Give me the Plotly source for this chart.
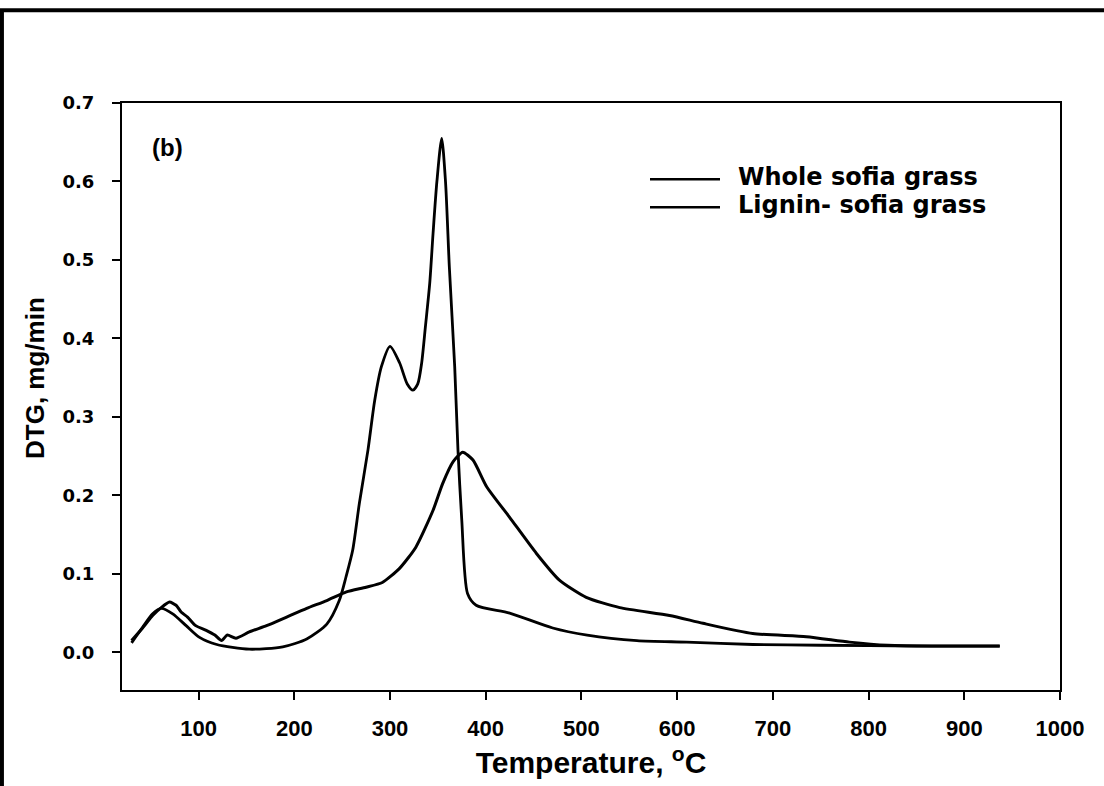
import plotly.graph_objects as go

# Whole sofia grass (T in degC, DTG in mg/min)
whole_T = [30, 41.5, 52, 61, 73, 87, 101, 119, 153, 188, 213, 234, 247, 254, 261, 268,
           277, 284, 291, 300, 310, 318, 324, 329, 333, 337, 341.5, 345, 349, 354, 358, 362,
           367.6, 371, 375, 381, 390, 425, 470, 506, 558, 610, 679, 750, 850, 937]
whole_v = [0.012, 0.032, 0.049, 0.056, 0.049, 0.034, 0.019, 0.010, 0.004, 0.007, 0.017,
           0.036, 0.066, 0.096, 0.130, 0.190, 0.258, 0.321, 0.364, 0.390, 0.369, 0.342,
           0.334, 0.342, 0.368, 0.415, 0.470, 0.534, 0.600, 0.655, 0.600, 0.491, 0.364,
           0.258, 0.168, 0.075, 0.060, 0.050, 0.031, 0.022, 0.015, 0.013, 0.010, 0.009,
           0.008, 0.008]

# Lignin- sofia grass
lignin_T = [30, 41.5, 52, 61, 69.6, 76.5, 82, 88.5, 97, 108, 117, 124, 130, 139, 153,
            171, 192, 213, 234, 254.5, 275, 292, 310, 327, 345, 355, 366, 376, 386.7,
            401, 425, 453, 477, 505, 540, 592, 627, 679, 735, 780, 820, 880, 937]
lignin_v = [0.015, 0.031, 0.047, 0.057, 0.064, 0.060, 0.051, 0.045, 0.034, 0.028, 0.022,
            0.015, 0.022, 0.018, 0.026, 0.034, 0.045, 0.056, 0.066, 0.077, 0.083, 0.089,
            0.107, 0.134, 0.181, 0.215, 0.243, 0.255, 0.245, 0.211, 0.172, 0.126, 0.092,
            0.070, 0.057, 0.047, 0.037, 0.024, 0.020, 0.013, 0.009, 0.008, 0.008]

series_names = ["Whole sofia grass", "Lignin- sofia grass"]
x_ticks = [100, 200, 300, 400, 500, 600, 700, 800, 900, 1000]
y_ticks = [0.0, 0.1, 0.2, 0.3, 0.4, 0.5, 0.6, 0.7]

fig = go.Figure()
fig.add_trace(go.Scatter(x=whole_T, y=whole_v, mode="lines", name=series_names[0],
                         line=dict(color="black", width=2.8, shape="spline", smoothing=0.7)))
fig.add_trace(go.Scatter(x=lignin_T, y=lignin_v, mode="lines", name=series_names[1],
                         line=dict(color="black", width=3, shape="spline", smoothing=0.6)))

axis_common = dict(showgrid=False, zeroline=False, showline=True, linecolor="black",
                   linewidth=2, mirror=True, ticks="outside", tickcolor="black",
                   tickwidth=2, ticklen=8)

fig.update_xaxes(range=[20, 1000], tickvals=x_ticks,
                 tickfont=dict(family="Liberation Sans", size=22, color="black", weight="bold"),
                 ticklabelstandoff=10,
                 title=dict(text="<b>Temperature, <sup>o</sup>C</b>", standoff=12,
                            font=dict(family="Liberation Sans", size=30, color="black")),
                 **axis_common)
fig.update_yaxes(range=[-0.048, 0.7], tickvals=y_ticks, tickformat=".1f",
                 tickfont=dict(family="DejaVu Sans", size=18, color="black", weight="bold"),
                 ticklabelstandoff=14, **axis_common)

# y axis title (slightly above the plot centre, as in the reference)
fig.add_annotation(text="<b>DTG, mg/min</b>", xref="paper", yref="paper",
                   x=(35 - 122) / 938, y=(690 - 378) / 587, xanchor="center", yanchor="middle",
                   textangle=-90, showarrow=False,
                   font=dict(family="Liberation Sans", size=26, color="black"))

fig.add_annotation(text="<b>(b)</b>", xref="paper", yref="paper",
                   x=(167 - 122) / 938, y=(690 - 148) / 587, xanchor="center", yanchor="middle",
                   showarrow=False, font=dict(family="Liberation Sans", size=24, color="black"))

# legend (drawn to match the reference's long line samples and tight spacing)
leg_rows = [177, 205]
for name, py in zip(series_names, leg_rows):
    yp = (690 - py) / 587
    fig.add_shape(type="line", xref="paper", yref="paper",
                  x0=(650 - 122) / 938, x1=(720 - 122) / 938, y0=yp - 0.004, y1=yp - 0.004,
                  line=dict(color="black", width=2.5))
    fig.add_annotation(text="<b>" + name + "</b>", xref="paper", yref="paper",
                       x=(736 - 122) / 938, y=yp, xanchor="left", yanchor="middle",
                       showarrow=False,
                       font=dict(family="DejaVu Sans", size=24, color="black"))

# outer frame of the scanned figure
fig.add_shape(type="line", xref="paper", yref="paper", x0=-0.135, x1=1.05, y0=1.158, y1=1.158,
              line=dict(color="black", width=4))
fig.add_shape(type="line", xref="paper", yref="paper", x0=-0.128, x1=-0.128, y0=1.16, y1=-0.17,
              line=dict(color="black", width=4))

fig.update_layout(
    width=1104, height=786,
    margin=dict(l=122, r=44, t=103, b=96),
    paper_bgcolor="white", plot_bgcolor="white",
    showlegend=False,
)

fig.write_html("out.html")
